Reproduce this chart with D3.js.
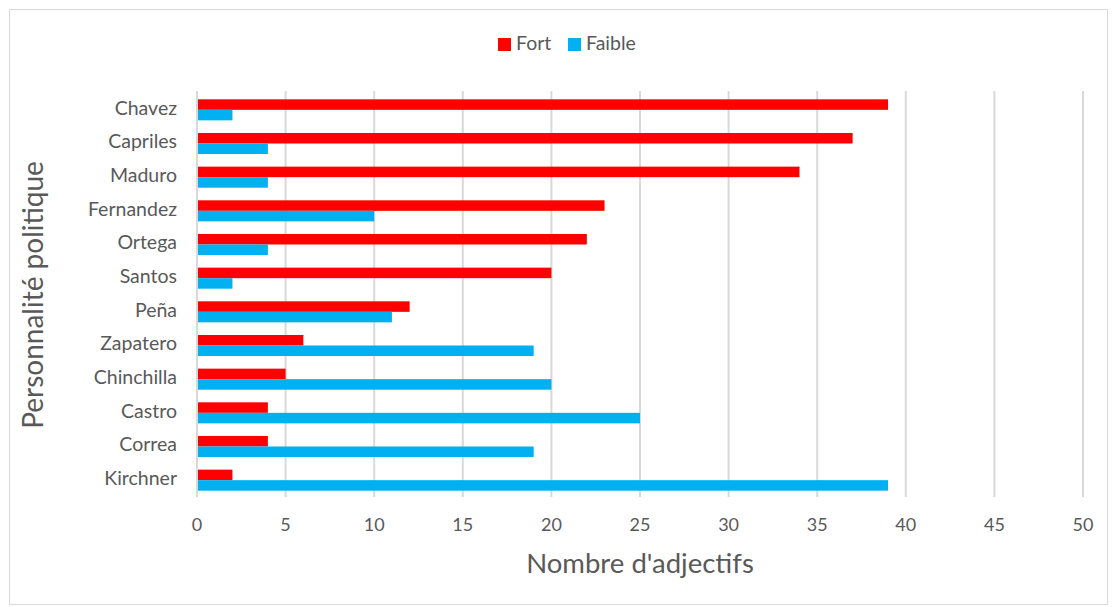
<!DOCTYPE html>
<html>
<head>
<meta charset="utf-8">
<script src="https://cdn.jsdelivr.net/npm/d3@7"></script>
<style>
  body { margin: 0; background: #fff; }
  text { font-family: Lato, "Open Sans", sans-serif; fill: #595959; }
</style>
</head>
<body>
<script>
// categories top to bottom
var names = ["Chavez", "Capriles", "Maduro", "Fernandez", "Ortega", "Santos",
  "Peña", "Zapatero", "Chinchilla", "Castro", "Correa", "Kirchner"];
var fort = [39, 37, 34, 23, 22, 20, 12, 6, 5, 4, 4, 2];
var faible = [2, 4, 4, 10, 4, 2, 11, 19, 20, 25, 19, 39];
var xTicks = [0, 5, 10, 15, 20, 25, 30, 35, 40, 45, 50];
var seriesNames = ["Fort", "Faible"];
var colors = ["#ff0000", "#00b0f0"];

var width = 1113, height = 607;

var svg = d3.select("body").append("svg")
  .attr("width", width)
  .attr("height", height);

// chart border
svg.append("rect")
  .attr("x", 9.5).attr("y", 9.5)
  .attr("width", 1098).attr("height", 595)
  .attr("fill", "#fff")
  .attr("stroke", "#d9d9d9");

var x = d3.scaleLinear().domain([0, 50]).range([197, 1083]);
var y = d3.scaleBand().domain(names).range([93, 497]).paddingInner(0.375).paddingOuter(0.1875);
var sub = d3.scaleBand().domain(seriesNames).range([0, y.bandwidth()]);

// gridlines
svg.append("g")
  .selectAll("line")
  .data(xTicks)
  .enter().append("line")
  .attr("x1", d => x(d)).attr("x2", d => x(d))
  .attr("y1", 91).attr("y2", 497)
  .attr("stroke", "#d9d9d9")
  .attr("stroke-width", 2);

var rows = names.map((n, i) => ({ name: n, vals: [fort[i], faible[i]] }));

var groups = svg.append("g").selectAll("g")
  .data(rows)
  .enter().append("g")
  .attr("transform", d => `translate(0 ${y(d.name)})`);

groups.selectAll("rect")
  .data(d => d.vals.map((v, j) => ({ s: seriesNames[j], v: v, c: colors[j] })))
  .enter().append("rect")
  .attr("x", x(0))
  .attr("y", d => sub(d.s))
  .attr("width", d => x(d.v) - x(0))
  .attr("height", sub.bandwidth())
  .attr("fill", d => d.c);

// y axis line
svg.append("line")
  .attr("x1", x(0)).attr("x2", x(0))
  .attr("y1", 93).attr("y2", 497)
  .attr("stroke", "#d9d9d9")
  .attr("stroke-width", 2);

// category labels
svg.append("g").selectAll("text")
  .data(names)
  .enter().append("text")
  .attr("x", 177)
  .attr("y", d => y(d) + y.bandwidth() / 2)
  .attr("text-anchor", "end")
  .attr("dominant-baseline", "middle")
  .attr("font-size", 19.5)
  .text(d => d);

// x tick labels
svg.append("g").selectAll("text")
  .data(xTicks)
  .enter().append("text")
  .attr("x", d => x(d))
  .attr("y", 526)
  .attr("text-anchor", "middle")
  .attr("dominant-baseline", "middle")
  .attr("font-size", 18)
  .text(d => d);

// axis titles
svg.append("text")
  .attr("x", 640).attr("y", 566)
  .attr("text-anchor", "middle")
  .attr("dominant-baseline", "middle")
  .attr("font-size", 27.5)
  .text("Nombre d'adjectifs");

svg.append("text")
  .attr("transform", "translate(36 295) rotate(-90)")
  .attr("text-anchor", "middle")
  .attr("dominant-baseline", "middle")
  .attr("font-size", 28)
  .text("Personnalité politique");

// legend
var legend = svg.append("g").selectAll("g")
  .data(seriesNames)
  .enter().append("g")
  .attr("transform", (d, i) => `translate(${i === 0 ? 498 : 568} 0)`);

legend.append("rect")
  .attr("x", 0).attr("y", 38)
  .attr("width", 13).attr("height", 13)
  .attr("fill", (d, i) => colors[i]);

legend.append("text")
  .attr("x", 18).attr("y", 45)
  .attr("dominant-baseline", "middle")
  .attr("font-size", 19.5)
  .text(d => d);
</script>
</body>
</html>
